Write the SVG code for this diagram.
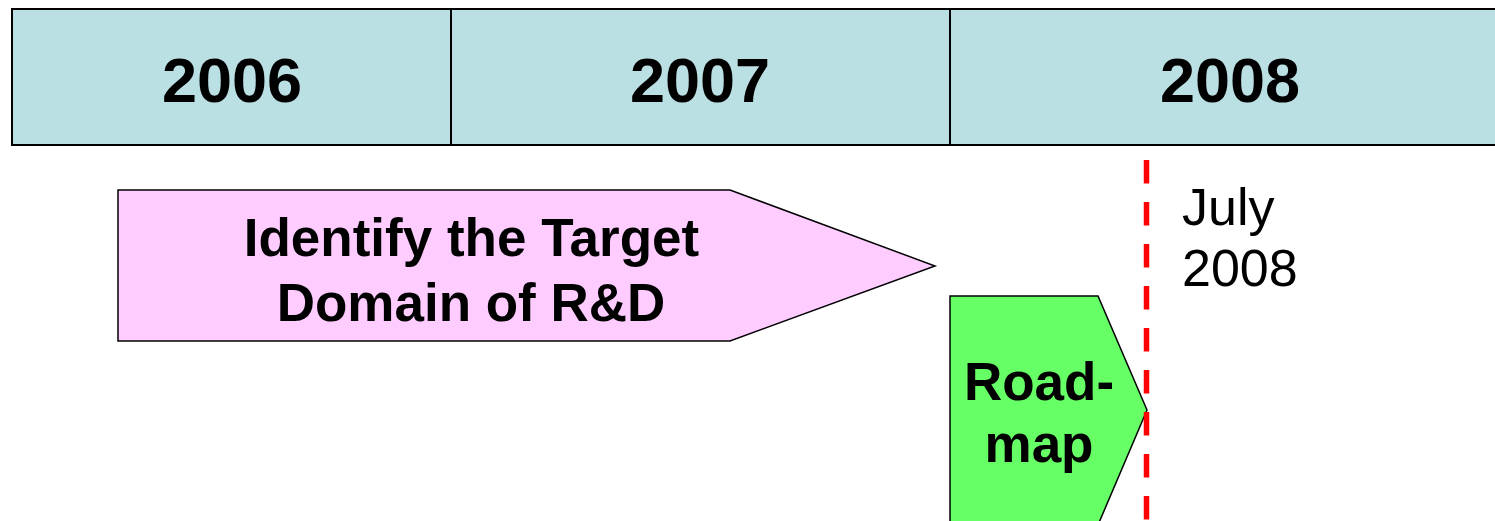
<svg xmlns="http://www.w3.org/2000/svg" width="1495" height="521" viewBox="0 0 1495 521">
  <style>
    .hdr { fill: #BBE0E3; stroke: #000; stroke-width: 2; }
    .year { font-family: "Liberation Sans", Arial, sans-serif; font-weight: bold; font-size: 63px; text-anchor: middle; fill: #000; }
    .lbl { font-family: "Liberation Sans", Arial, sans-serif; font-weight: bold; font-size: 53px; text-anchor: middle; fill: #000; }
    .note { font-family: "Liberation Sans", Arial, sans-serif; font-size: 52px; fill: #000; }
    .shape { stroke: #000; stroke-width: 1.5; stroke-linejoin: miter; }
  </style>

  <!-- year header -->
  <g id="year-2006">
    <rect class="hdr" x="12" y="9" width="439" height="136"/>
    <text class="year" x="232" y="102">2006</text>
  </g>
  <g id="year-2007">
    <rect class="hdr" x="451" y="9" width="499" height="136"/>
    <text class="year" x="700" y="102">2007</text>
  </g>
  <g id="year-2008">
    <rect class="hdr" x="950" y="9" width="560" height="136"/>
    <text class="year" x="1230" y="102">2008</text>
  </g>

  <!-- phase: target domain -->
  <g id="target-domain">
    <polygon class="shape" fill="#FFCCFF" points="118,190 730,190 935,266 730,341 118,341"/>
    <text class="lbl" x="471.5" y="256">Identify the Target</text>
    <text class="lbl" x="471" y="321">Domain of R&amp;D</text>
  </g>

  <!-- phase: roadmap -->
  <g id="roadmap">
    <polygon class="shape" fill="#66FF66" points="950,296 1098,296 1147,410 1098,525 950,525"/>
    <text class="lbl" x="1039" y="400">Road-</text>
    <text class="lbl" x="1039" y="462">map</text>
  </g>

  <!-- milestone marker -->
  <g id="connectors">
    <line x1="1146.5" y1="160" x2="1146.5" y2="521" stroke="#FF0000" stroke-width="5.5" stroke-dasharray="23.5,18.5"/>
  </g>
  <g id="milestone-label">
    <text class="note" x="1182" y="225">July</text>
    <text class="note" x="1182" y="286">2008</text>
  </g>
</svg>
